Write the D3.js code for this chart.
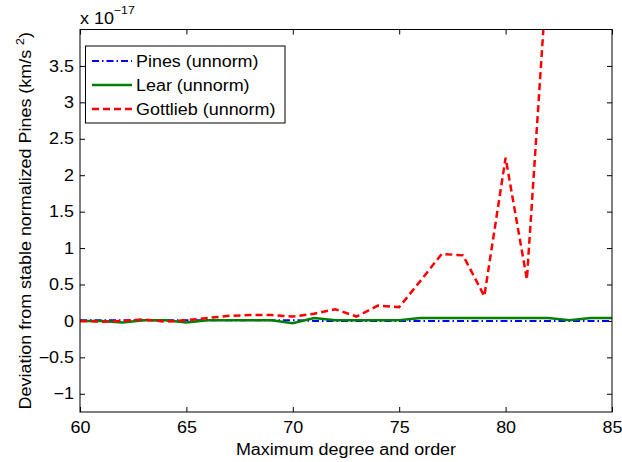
<!DOCTYPE html>
<meta charset="utf-8">
<script src="https://d3js.org/d3.v7.min.js"></script>
<style>
  body { margin: 0; background: #fff; }
  text { font-family: "Liberation Sans", Arial, Helvetica, sans-serif; }
</style>
<div id="my_dataviz"></div>
<script>

// data (values in units of 1e-17 km/s^2)
var degree   = [60,61,62,63,64,65,66,67,68,69,70,71,72,73,74,75,76,77,78,79,80,81,82,83,84,85];
var pines    = [0.01,0.01,0.01,0.01,0.01,0.01,0.01,0.01,0.01,0.01,0.01,0.0,0.0,0.0,0.0,0.0,0.0,0.0,0.0,0.0,0.0,0.0,0.0,0.0,0.0,0.0];
var lear     = [0.0,0.0,-0.02,0.01,0.01,-0.02,0.01,0.01,0.01,0.01,-0.03,0.04,0.01,0.01,0.01,0.01,0.04,0.04,0.04,0.04,0.04,0.04,0.04,0.01,0.04,0.04];
var gottlieb = [0.0,-0.01,0.0,0.02,-0.01,0.01,0.04,0.07,0.08,0.08,0.06,0.10,0.16,0.06,0.21,0.19,0.55,0.92,0.90,0.34,2.24,0.57,5.0,7.5,9.0,12.0];

var xTicks = [60,65,70,75,80,85];
var yTicks = [-1,-0.5,0,0.5,1,1.5,2,2.5,3,3.5];

var series = [
  {name: "Pines (unnorm)",    values: pines,    color: "#0000ff", dash: "7,3,1.5,3", w: 2},
  {name: "Lear (unnorm)",     values: lear,     color: "#008000", dash: null,        w: 2.5},
  {name: "Gottlieb (unnorm)", values: gottlieb, color: "#ff0000", dash: "7,4",       w: 2.5}
];

// set the dimensions and margins of the graph
var margin = {top: 29.5, right: 10, bottom: 50, left: 80},
    width = 612 - margin.left,
    height = 412 - margin.top;

var svg = d3.select("#my_dataviz")
  .append("svg")
    .attr("width", 622)
    .attr("height", 462)
  .append("g")
    .attr("transform", "translate(" + margin.left + "," + margin.top + ")");

var x = d3.scaleLinear().domain([60, 85]).range([0, width]);
var y = d3.scaleLinear().domain([-1.25, 4]).range([height, 0]);

var fmt = d3.format("");

// axes, ticks pointing inwards on all four sides
svg.append("g")
    .attr("transform", "translate(0," + height + ")")
    .call(d3.axisBottom(x).tickValues(xTicks).tickSizeInner(-5).tickSizeOuter(0).tickPadding(10));
svg.append("g")
    .call(d3.axisTop(x).tickValues(xTicks).tickSizeInner(-5).tickSizeOuter(0).tickFormat(""));
svg.append("g")
    .call(d3.axisLeft(y).tickValues(yTicks).tickSizeInner(-5).tickSizeOuter(0).tickPadding(6)
      .tickFormat(function(d) { return fmt(d); }));
svg.append("g")
    .attr("transform", "translate(" + width + ",0)")
    .call(d3.axisRight(y).tickValues(yTicks).tickSizeInner(-5).tickSizeOuter(0).tickFormat(""));

svg.selectAll(".domain").remove();
svg.selectAll(".tick line").attr("stroke", "#000");
svg.selectAll(".tick text").attr("font-size", 16).attr("font-family", null).attr("fill", "#000");

// clip the lines to the axes
svg.append("clipPath").attr("id", "clip")
  .append("rect").attr("width", width).attr("height", height);

var line = d3.line()
    .x(function(d, i) { return x(degree[i]); })
    .y(function(d) { return y(d); });

svg.append("g").attr("clip-path", "url(#clip)")
  .selectAll("path")
  .data(series)
  .enter()
  .append("path")
    .attr("d", function(d) { return line(d.values); })
    .attr("fill", "none")
    .attr("stroke", function(d) { return d.color; })
    .attr("stroke-width", function(d) { return d.w; })
    .attr("stroke-dasharray", function(d) { return d.dash; });

// axes box
svg.append("rect")
    .attr("width", width).attr("height", height)
    .attr("fill", "none").attr("stroke", "#000").attr("stroke-width", 1);

// exponent label
var ex = svg.append("text").attr("x", 0).attr("y", 24 - margin.top).attr("font-size", 16).text("x 10");
ex.append("tspan").attr("font-size", 11).attr("dy", -10).text("\u221217");

// axis labels
svg.append("text")
    .attr("x", width / 2)
    .attr("y", 455 - margin.top)
    .attr("text-anchor", "middle")
    .attr("font-size", 16)
    .text("Maximum degree and order");

var yl = svg.append("text")
    .attr("transform", "rotate(-90)")
    .attr("x", -height / 2)
    .attr("y", 31 - margin.left)
    .attr("text-anchor", "middle")
    .attr("font-size", 16)
    .text("Deviation from stable normalized Pines (km/s ");
yl.append("tspan").attr("font-size", 11).attr("dy", -7).text("2");
yl.append("tspan").attr("dy", 7).text(")");

// Handmade legend
var lg = svg.append("g").attr("transform", "translate(" + (85.5 - margin.left) + "," + (46 - margin.top) + ")");
lg.append("rect").attr("width", 199.5).attr("height", 77)
    .attr("fill", "#fff").attr("stroke", "#000").attr("stroke-width", 1);
series.forEach(function(s, i) {
  var ly = 15 + i * 24;
  lg.append("line").attr("x1", 6.5).attr("x2", 46.5).attr("y1", ly).attr("y2", ly)
    .attr("stroke", s.color).attr("stroke-width", s.w).attr("stroke-dasharray", s.dash);
  lg.append("text").attr("x", 50.5).attr("y", ly).attr("dy", "0.35em")
    .attr("font-size", 16).text(s.name);
});

// the reference's glyphs are a bit wider than Liberation Sans
d3.selectAll("text").each(function() {
  var w = this.getComputedTextLength();
  if (w > 0) d3.select(this).attr("textLength", w * 1.12).attr("lengthAdjust", "spacingAndGlyphs");
});

</script>
